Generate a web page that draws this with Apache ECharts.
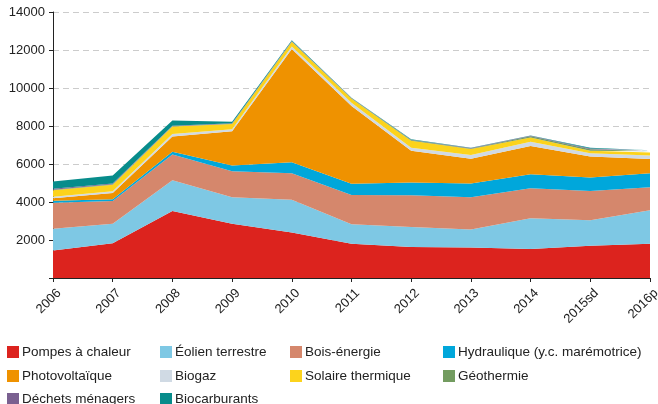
<!DOCTYPE html>
<html lang="fr">
<head>
    <meta charset="UTF-8">
    <title>Énergies renouvelables</title>
</head>
<script src="https://cdn.jsdelivr.net/npm/echarts@6/dist/echarts.min.js"></script>
<body style="margin:0">
<div id="main" style="height: 404px;width: 658px"></div>
<script type="text/javascript">
    // données
    var years = ['2006', '2007', '2008', '2009', '2010', '2011', '2012', '2013', '2014', '2015sd', '2016p']
    var pompes = [1450, 1830, 3530, 2850, 2400, 1800, 1630, 1600, 1520, 1700, 1800]
    var eolien = [1140, 1030, 1610, 1400, 1720, 1030, 1060, 950, 1620, 1340, 1760]
    var bois = [1370, 1190, 1360, 1370, 1390, 1540, 1660, 1700, 1580, 1540, 1210]
    var hydro = [110, 100, 150, 300, 580, 590, 670, 730, 740, 710, 740]
    var photovolt = [130, 330, 800, 1800, 5960, 4090, 1680, 1300, 1490, 1100, 750]
    var biogaz = [80, 80, 130, 110, 130, 180, 160, 190, 220, 170, 190]
    var solaire = [340, 350, 390, 270, 250, 210, 370, 320, 230, 140, 150]
    var geothermie = [30, 30, 20, 20, 20, 20, 30, 30, 60, 70, 70]
    var dechets = [50, 40, 20, 20, 20, 20, 20, 20, 30, 50, 40]
    var biocarburants = [380, 420, 280, 80, 40, 10, 20, 20, 10, 30, 10]
    var yTicks = [0, 2000, 4000, 6000, 8000, 10000, 12000, 14000]

    var names = ['Pompes à chaleur', 'Éolien terrestre', 'Bois-énergie', 'Hydraulique (y.c. marémotrice)',
        'Photovoltaïque', 'Biogaz', 'Solaire thermique', 'Géothermie', 'Déchets ménagers', 'Biocarburants']
    var values = [pompes, eolien, bois, hydro, photovolt, biogaz, solaire, geothermie, dechets, biocarburants]
    var colors = ['#dc231e', '#7ec8e4', '#d5876c', '#00a7db', '#ef9200', '#d0dae4', '#fcd31c', '#739c60', '#7a6090', '#078c8b']

    // position des entrées de légende (4 colonnes, 3 lignes)
    var legendX = [7, 160, 290, 443]
    var legendY = [345, 369, 392]

    var myChart = echarts.init(document.getElementById("main"))
    var series = []
    var legends = []
    for (var i = 0; i < names.length; i++) {
        series.push({
            name: names[i],
            type: 'line',
            stack: 'total',
            data: values[i],
            symbol: 'none',
            lineStyle: {width: 0},
            areaStyle: {color: colors[i], opacity: 1},
            itemStyle: {color: colors[i]}
        })
        legends.push({
            data: [names[i]],
            left: legendX[i % 4],
            top: legendY[Math.floor(i / 4)],
            icon: 'rect',
            itemWidth: 12,
            itemHeight: 12,
            itemGap: 0,
            padding: 0,
            textStyle: {fontFamily: 'Liberation Sans', fontSize: 13.5, color: '#222', padding: [0, 0, 0, -2]}
        })
    }

    var option = {
        animation: false,
        textStyle: {fontFamily: 'Liberation Sans'},
        legend: legends,
        grid: {left: 53, right: 8, top: 12, bottom: 126, containLabel: false, outerBoundsMode: 'none'},
        xAxis: {
            type: 'category',
            data: years,
            boundaryGap: false,
            axisLine: {show: true, lineStyle: {color: '#222', width: 1}},
            axisTick: {show: true, length: 4, lineStyle: {color: '#222'}},
            axisLabel: {
                rotate: 45, fontSize: 13, color: '#222', margin: 7,
                align: 'right', verticalAlign: 'top', padding: [2, 0, 0, 0]
            }
        },
        yAxis: {
            type: 'value',
            min: yTicks[0],
            max: yTicks[yTicks.length - 1],
            interval: 2000,
            axisLine: {show: true, lineStyle: {color: '#222', width: 1}},
            axisTick: {show: true, length: 4, lineStyle: {color: '#222'}},
            axisLabel: {
                fontSize: 13, color: '#222', margin: 8,
                formatter: function (v) { return v === 0 ? '' : String(v) }
            },
            splitLine: {show: true, lineStyle: {color: '#cccccc', type: [6, 4]}}
        },
        series: series
    }
    myChart.setOption(option)
</script>
</body>
</html>
